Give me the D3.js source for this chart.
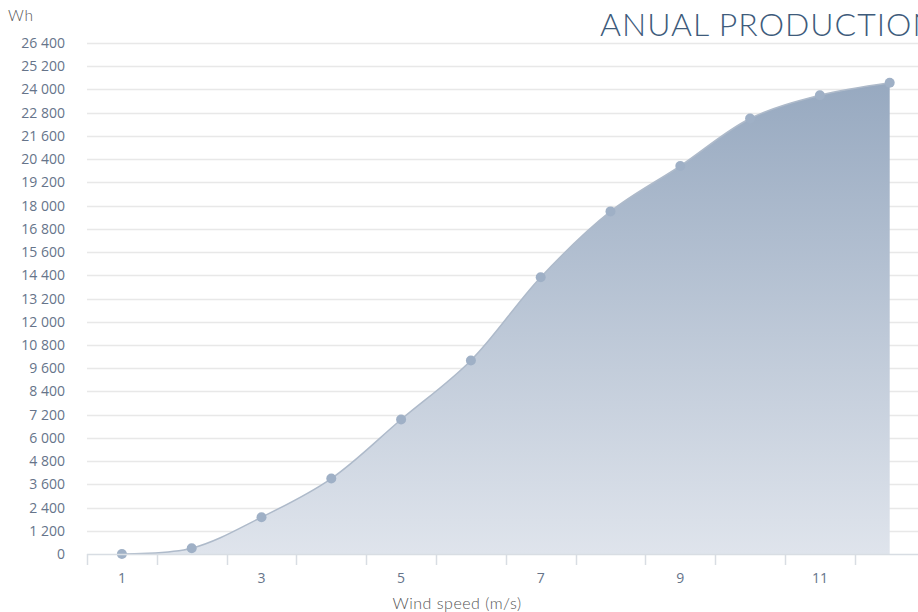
<!DOCTYPE html>
<html><head><meta charset="utf-8">
<script src="https://cdn.jsdelivr.net/npm/d3@7/dist/d3.min.js"></script>
<style>
html,body{margin:0;padding:0;background:#fff;overflow:hidden;}
svg{display:block;}
</style></head>
<body>
<svg id="chart" width="918" height="612"></svg>
<script>
const categories = [1,2,3,4,5,6,7,8,9,10,11,12];
const production = [0, 300, 1900, 3900, 6950, 10000, 14300, 17700, 20050, 22500, 23700, 24350];
const yTicks = [0,1200,2400,3600,4800,6000,7200,8400,9600,10800,12000,13200,14400,15600,16800,18000,19200,20400,21600,22800,24000,25200,26400];
const xLabels = [1,3,5,7,9,11];
const titleText = "ANUAL PRODUCTION";
const yUnit = "Wh";
const xTitle = "Wind speed (m/s)";

const svg = d3.select("#chart");
const plotLeft = 87, plotRight = 924.6, plotTop = 43, plotBottom = 554;

const x = d3.scaleBand().domain(categories).range([plotLeft, plotRight]).padding(0);
const y = d3.scaleLinear().domain([0, 26400]).range([plotBottom, plotTop]);
const cx = d => x(d) + x.bandwidth()/2;

const defs = svg.append("defs");
const grad = defs.append("linearGradient").attr("id","g")
  .attr("gradientUnits","userSpaceOnUse").attr("x1",0).attr("x2",0).attr("y1",y(24350)).attr("y2",plotBottom);
grad.append("stop").attr("offset",0).attr("stop-color","#97a9c0");
grad.append("stop").attr("offset",1).attr("stop-color","#dfe4ec");

// grid
svg.append("g").selectAll("line").data(yTicks.filter(d=>d>0)).join("line")
  .attr("x1", plotLeft).attr("x2", 918).attr("y1", d=>Math.round(y(d))+0.5).attr("y2", d=>Math.round(y(d))+0.5)
  .attr("stroke","#e8e8e8").attr("stroke-width",1.5);

const data = categories.map((c,i)=>({c, v: production[i]}));
const curve = d3.curveCatmullRom.alpha(0.5);

const area = d3.area().x(d=>cx(d.c)).y0(plotBottom).y1(d=>y(d.v)).curve(curve);
svg.append("path").datum(data).attr("d", area).attr("fill","url(#g)");

const line = d3.line().x(d=>cx(d.c)).y(d=>y(d.v)).curve(curve);
svg.append("path").datum(data).attr("d", line).attr("fill","none").attr("stroke","#aebaca").attr("stroke-width",1.5);

svg.append("g").selectAll("circle").data(data).join("circle")
  .attr("cx", d=>cx(d.c)).attr("cy", d=>y(d.v)).attr("r",5).attr("fill","#9fb0c6");

// x axis line and ticks
svg.append("line").attr("x1",plotLeft).attr("x2",918).attr("y1",plotBottom+0.5).attr("y2",plotBottom+0.5)
  .attr("stroke","#d8dde3").attr("stroke-width",1.5);
svg.append("g").selectAll("line").data(categories).join("line")
  .attr("x1", d=>Math.round(x(d))+0.5).attr("x2", d=>Math.round(x(d))+0.5)
  .attr("y1", plotBottom).attr("y2", plotBottom+11)
  .attr("stroke","#d8dde3").attr("stroke-width",1.5);

// x labels
svg.append("g").selectAll("text").data(xLabels).join("text")
  .attr("x", d=>cx(d)).attr("y", 583).attr("text-anchor","middle")
  .attr("font-family","'Open Sans', sans-serif").attr("font-size",14).attr("fill","#66748a")
  .text(d=>d);

// y labels
const fmt = v => v >= 1000 ? Math.floor(v/1000) + " " + String(v%1000).padStart(3,"0") : String(v);
svg.append("g").selectAll("text").data(yTicks).join("text")
  .attr("x", 65).attr("y", d=>y(d)+5).attr("text-anchor","end")
  .attr("font-family","'Open Sans', sans-serif").attr("font-size",14).attr("fill","#66748a")
  .text(d=>fmt(d));

svg.append("text").attr("x",8).attr("y",21).attr("font-family","Lato, sans-serif").attr("font-weight",300)
  .attr("font-size",15.5).attr("letter-spacing",0.8).attr("fill","#555").text(yUnit);

svg.append("text").attr("x",457).attr("y",609).attr("text-anchor","middle").attr("font-family","Lato, sans-serif").attr("font-weight",300)
  .attr("font-size",16).attr("letter-spacing",0.5).attr("fill","#555").text(xTitle);

svg.append("text").attr("x",600).attr("y",36).attr("font-family","Lato, sans-serif").attr("font-weight",300)
  .attr("font-size",32).attr("letter-spacing",1).attr("fill","#3e5b7b").text(titleText);
</script>
</body></html>
